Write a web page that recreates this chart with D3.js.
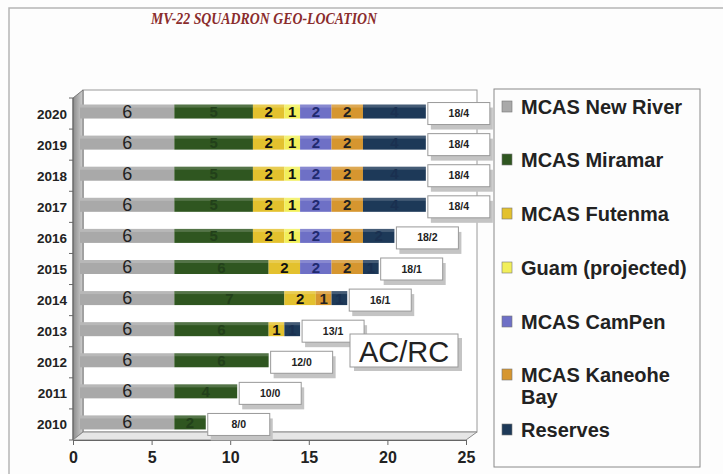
<!DOCTYPE html>
<html><head><meta charset="utf-8">
<script src="https://cdn.jsdelivr.net/npm/d3@7"></script>
<style>body{margin:0;background:#fff;}svg{display:block;}</style>
</head><body>
<svg id="c" width="723" height="474"></svg>
<script>
const years = ["2010","2011","2012","2013","2014","2015","2016","2017","2018","2019","2020"];
const seriesNames = ["MCAS New River","MCAS Miramar","MCAS Futenma","Guam (projected)","MCAS CamPen","MCAS Kaneohe Bay","Reserves"];
const newRiver = [6,6,6,6,6,6,6,6,6,6,6];
const miramar  = [2,4,6,6,7,6,5,5,5,5,5];
const futenma  = [0,0,0,1,2,2,2,2,2,2,2];
const guam     = [0,0,0,0,0,0,1,1,1,1,1];
const camPen   = [0,0,0,0,0,2,2,2,2,2,2];
const kaneohe  = [0,0,0,0,1,2,2,2,2,2,2];
const reserves = [0,0,0,1,1,1,2,4,4,4,4];
const totals   = ["8/0","10/0","12/0","13/1","16/1","18/1","18/2","18/4","18/4","18/4","18/4"];
const xTicks = [0,5,10,15,20,25];

const colors = ["#a9a9a9","#2f5620","#e3c12e","#f2ef5a","#6e70c6","#d6962f","#1d3958"];
const labelColors = ["#222","#22401a","#111","#111","#1f2a70","#222","#1a3050"];
const series = [newRiver,miramar,futenma,guam,camPen,kaneohe,reserves];

const svg = d3.select("#c");
const defs = svg.append("defs");
const g1 = defs.append("linearGradient").attr("id","wallg").attr("x1",0).attr("x2",1);
g1.append("stop").attr("offset","0").attr("stop-color","#8c8c8c");
g1.append("stop").attr("offset","1").attr("stop-color","#cfcfcf");

// frame
svg.append("rect").attr("x",0).attr("y",0).attr("width",723).attr("height",474).attr("fill","#fdfdfd");
svg.append("path").attr("d","M9,474V8H723").attr("fill","none").attr("stroke","#b5b5b5").attr("stroke-width",1.5);

// title
svg.append("text").attr("x",264).attr("y",24).attr("text-anchor","middle")
  .attr("font-family","Liberation Serif").attr("font-style","italic").attr("font-weight","bold")
  .attr("font-size",16).attr("fill","#8a2c2c").attr("textLength",226).attr("lengthAdjust","spacingAndGlyphs")
  .text("MV-22 SQUADRON GEO-LOCATION");

const x = d3.scaleLinear().domain([0,25]).range([73,466]);
const y = d3.scaleBand().domain(years.slice().reverse()).range([98,440]).padding(0);
const dx = 10, dy = 8, bdx = 7;

// walls
svg.append("rect").attr("x",x(0)+dx).attr("y",98-dy).attr("width",x(25)-x(0)+1).attr("height",440-98)
  .attr("fill","#ffffff").attr("stroke","#9a9a9a").attr("stroke-width",1);
svg.append("path").attr("d",`M${x(0)},98L${x(0)+dx},${98-dy}V${440-dy}L${x(0)},440Z`).attr("fill","url(#wallg)").attr("stroke","#777");
svg.append("path").attr("d",`M${x(0)},440L${x(0)+dx},${440-dy}H${x(25)+dx+1}L${x(25)},440Z`).attr("fill","#e6e6e6").attr("stroke","#8a8a8a");

// y ticks
const yAxis = svg.append("g");
yAxis.append("line").attr("x1",x(0)).attr("x2",x(0)).attr("y1",98).attr("y2",440).attr("stroke","#666");
years.forEach(yr=>{
  yAxis.append("line").attr("x1",x(0)-4).attr("x2",x(0)).attr("y1",y(yr)).attr("y2",y(yr)).attr("stroke","#666");
  yAxis.append("text").attr("x",67).attr("y",y(yr)+y.bandwidth()/2+5).attr("text-anchor","end")
    .attr("font-family","Liberation Sans").attr("font-weight","bold").attr("font-size",13.5).attr("fill","#222").text(yr);
});
yAxis.append("line").attr("x1",x(0)-4).attr("x2",x(0)).attr("y1",440).attr("y2",440).attr("stroke","#666");

// x axis
const xa = svg.append("g").attr("transform","translate(0,440)")
  .call(d3.axisBottom(x).tickValues(xTicks).tickSize(5).tickFormat(d3.format("d")));
xa.select(".domain").attr("stroke","#666");
xa.selectAll("line").attr("stroke","#666");
xa.selectAll("text").attr("font-family","Liberation Sans").attr("font-weight","bold").attr("font-size",16).attr("fill","#222").attr("dy","0.95em");

// bars
const bh = 14;
years.forEach((yr,i)=>{
  const cy = y(yr)+y.bandwidth()/2;
  const top = cy-9;
  let acc = 0;
  series.forEach((s,k)=>{
    const v = s[i];
    if(!v) return;
    const x0 = x(acc)+bdx, x1 = x(acc+v)+bdx;
    svg.append("rect").attr("x",x0).attr("y",top).attr("width",x1-x0).attr("height",bh).attr("fill",colors[k]);
    svg.append("rect").attr("x",x0).attr("y",top).attr("width",x1-x0).attr("height",3).attr("fill","#fff").attr("opacity",0.18);
    const big = k===0;
    svg.append("text").attr("x",(x0+x1)/2).attr("y",top+bh/2+(big?6:5.5)).attr("text-anchor","middle")
      .attr("font-family","Liberation Sans").attr("font-weight",big?"normal":"bold")
      .attr("font-size",big?18:15).attr("fill",labelColors[k]).text(v);
    acc += v;
  });
  const end = x(acc)+bdx+2;
  svg.append("rect").attr("x",end+3).attr("y",cy-9+3).attr("width",62).attr("height",22).attr("fill","#c4c4c4");
  svg.append("rect").attr("x",end).attr("y",cy-9-2).attr("width",62).attr("height",22).attr("fill","#fff").attr("stroke","#999");
  svg.append("text").attr("x",end+31).attr("y",cy+3.5).attr("text-anchor","middle")
    .attr("font-family","Liberation Sans").attr("font-weight","bold").attr("font-size",10.5).attr("fill","#222").text(totals[i]);
});

// AC/RC
svg.append("rect").attr("x",354).attr("y",338).attr("width",108).attr("height",33).attr("fill","#c4c4c4");
svg.append("rect").attr("x",350).attr("y",334).attr("width",108).attr("height",33).attr("fill","#fff").attr("stroke","#999");
svg.append("text").attr("x",404).attr("y",362).attr("text-anchor","middle").attr("font-family","Liberation Sans")
  .attr("font-size",29).attr("fill","#222").text("AC/RC");

// legend
svg.append("rect").attr("x",494).attr("y",89).attr("width",206).attr("height",378).attr("fill","#fdfdfd").attr("stroke","#8a8a8a");
const legY = [107,160,214,268,322,375,430];
seriesNames.forEach((n,k)=>{
  svg.append("rect").attr("x",502).attr("y",legY[k]-6).attr("width",10).attr("height",11).attr("fill",colors[k]).attr("stroke","#777").attr("stroke-width",0.6);
  const t = svg.append("text").attr("x",521).attr("y",legY[k]+7).attr("font-family","Liberation Sans").attr("font-weight","bold")
    .attr("font-size",20).attr("fill","#222");
  if(n==="MCAS Kaneohe Bay"){
    t.append("tspan").attr("x",521).text("MCAS Kaneohe");
    t.append("tspan").attr("x",521).attr("dy",22).text("Bay");
  } else t.text(n);
});
</script>
</body></html>
